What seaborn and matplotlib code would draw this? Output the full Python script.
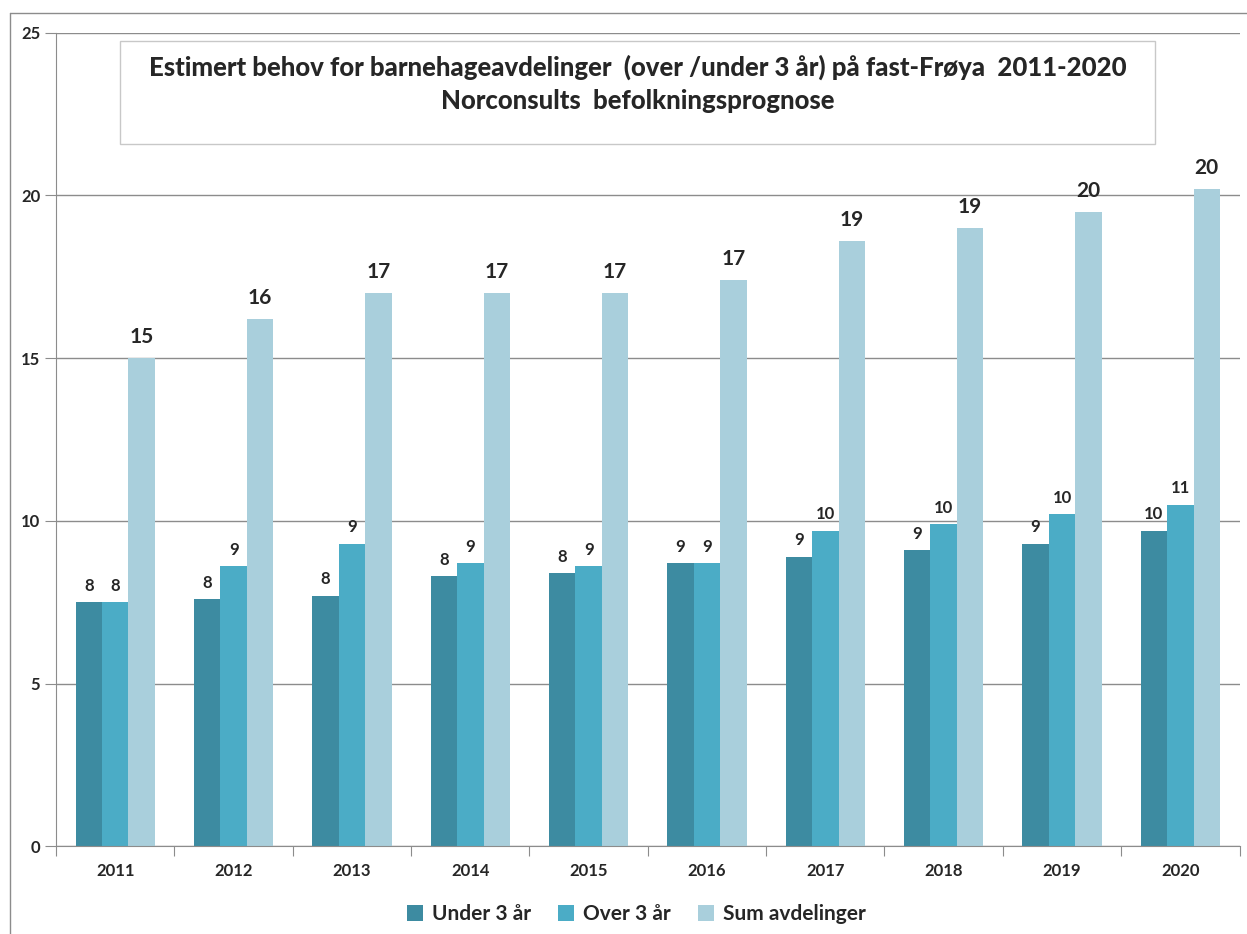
import pandas as pd
import matplotlib.pyplot as plt
import seaborn as sns
import numpy as np

# Data
years = ['2011', '2012', '2013', '2014', '2015', '2016', '2017', '2018', '2019', '2020']
under_3 = [7.5, 7.6, 7.7, 8.3, 8.4, 8.7, 8.9, 9.1, 9.3, 9.7]
over_3 = [7.5, 8.6, 9.3, 8.7, 8.6, 8.7, 9.7, 9.9, 10.2, 10.5]
sum_avd = [15.0, 16.2, 17.0, 17.0, 17.0, 17.4, 18.6, 19.0, 19.5, 20.2]
series = ['Under 3 år', 'Over 3 år', 'Sum avdelinger']
colors = ['#3d8ba1', '#4bacc6', '#a9cfdc']

df = pd.DataFrame({'year': years * 3,
                   'serie': np.repeat(series, len(years)),
                   'value': under_3 + over_3 + sum_avd})

sns.set_style('white')
plt.rcParams['font.family'] = ['Lato', 'DejaVu Sans']

fig = plt.figure(figsize=(12.47, 9.34), dpi=100)
ax = fig.add_axes([0.045, 0.094, 0.949, 0.871])

sns.barplot(data=df, x='year', y='value', hue='serie', palette=colors,
            width=0.67, gap=0, saturation=1, linewidth=0, ax=ax, legend=True)

# data labels (rounded half up, like the spreadsheet)
for i, cont in enumerate(ax.containers):
    vals = [under_3, over_3, sum_avd][i]
    size = 15 if i == 2 else 12
    ax.bar_label(cont, labels=[str(int(v + 0.5)) for v in vals], padding=8 if i == 2 else 6,
                 fontsize=size, fontweight='bold')

ax.set_ylim(0, 25)
ax.set_xlim(-0.5, len(years) - 0.5)
ax.set_yticks([0, 5, 10, 15, 20, 25])
ax.yaxis.grid(True, color='#8c8c8c', linewidth=1)
ax.set_axisbelow(True)
ax.tick_params(axis='y', left=True, length=8, color='#8c8c8c', labelsize=12)
for lab in ax.get_yticklabels():
    lab.set_fontweight('bold')

# category boundaries as tick marks, labels centred
ax.set_xticks(np.arange(-0.5, len(years), 1.0))
ax.set_xticklabels([])
ax.tick_params(axis='x', bottom=True, length=7, color='#8c8c8c')
ax.set_xticks(np.arange(len(years)), minor=True)
ax.set_xticklabels(years, minor=True, fontsize=12, fontweight='bold')
ax.tick_params(axis='x', which='minor', length=0, pad=12)
ax.set_xlabel('')
ax.set_ylabel('')

for s in ['top', 'right']:
    ax.spines[s].set_visible(False)
for s in ['left', 'bottom']:
    ax.spines[s].set_color('#8c8c8c')

# title box
ax.add_patch(plt.Rectangle((0.054, 0.863), 0.875, 0.127, transform=ax.transAxes,
                           facecolor='white', edgecolor='#c8c8c8', linewidth=1, zorder=2))
ax.text(0.4915, 0.937, 'Estimert behov for barnehageavdelinger  (over /under 3 år) på fast-Frøya  2011-2020\nNorconsults  befolkningsprognose',
        transform=ax.transAxes, ha='center', va='center', fontsize=18.5, fontweight='black',
        linespacing=1.45, zorder=3)

ax.legend(loc='upper center', bbox_to_anchor=(0.49, -0.048), ncol=3, frameon=False,
          handlelength=0.8, handleheight=0.8, handletextpad=0.4, columnspacing=1.3,
          prop={'size': 15, 'weight': 'bold'})

# outer frame of the sheet
fig.add_artist(plt.Line2D([0.008, 0.008], [0.0, 0.986], color='#8c8c8c', linewidth=1))
fig.add_artist(plt.Line2D([0.008, 1.0], [0.986, 0.986], color='#8c8c8c', linewidth=1))

fig.savefig('out.png', dpi=100)
